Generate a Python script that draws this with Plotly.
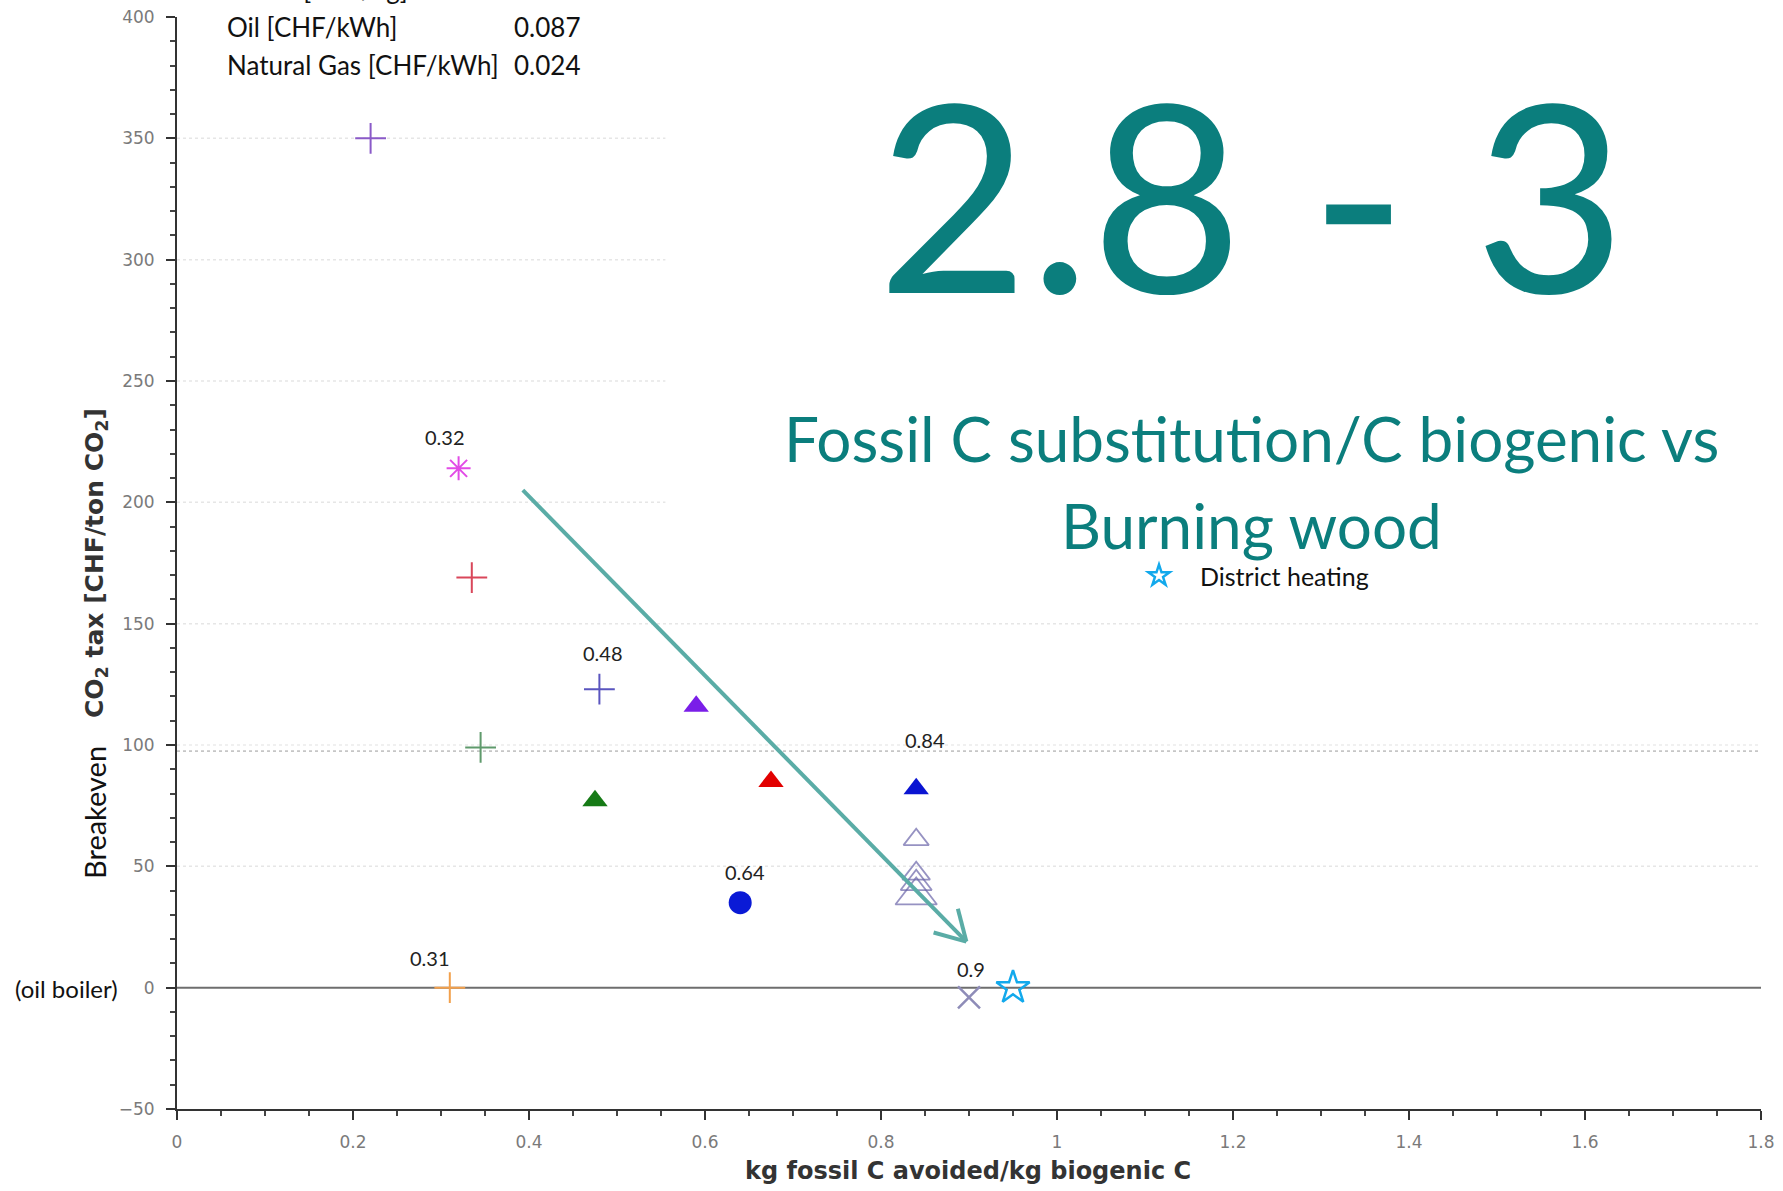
import math
import plotly.graph_objects as go

# Breakeven CO2 tax versus fossil carbon avoided per kg of biogenic carbon
plus_x = [0.22, 0.335, 0.345, 0.48, 0.31]
plus_y = [350, 169, 99, 123, 0]
plus_colors = ["#8a5ac8", "#d9475a", "#5f9a6c", "#5a55bf", "#f2a04c"]

star_burst_x = [0.32]
star_burst_y = [214]

solid_tri_x = [0.59, 0.475, 0.675, 0.84]
solid_tri_y = [116, 77, 85, 82]
solid_tri_colors = ["#7a1ee8", "#167a16", "#e20000", "#0a14d2"]

circle_x = [0.64]
circle_y = [35]

open_tri_x = [0.84, 0.84, 0.84, 0.84]
open_tri_y = [61, 47, 43, 38]
open_tri_sizes = [22, 24, 27, 36]

cross_x = [0.9]
cross_y = [-4]

district_x = [0.95]
district_y = [0]

value_labels = ["0.32", "0.48", "0.64", "0.84", "0.9", "0.31"]
value_label_x = [0.32, 0.48, 0.64, 0.84, 0.9, 0.31]
value_label_y = [214, 123, 35, 82, -4, 0]
value_label_dy = [31, 36, 31, 49, 28, 30]
value_label_dx = [-14, 4, 5, 9, 2, -20]

fuel_names = ["Wood [CHF/kg]", "Oil [CHF/kWh]", "Natural Gas [CHF/kWh]"]
fuel_prices = ["", "0.087", "0.024"]

threshold_y = 97.5
grid_short = [200, 250, 300, 350]
grid_long = [50, 150]
grid_short_end = 0.555

arrow_start = (0.393, 205)
arrow_end = (0.897, 19)

SLIDE_FONT = "Lato"
TEAL = "#0b7e7d"
ARROW_COLOR = "#5aaca6"

W, H = 1783, 1191
ML, MR, MT, MB = 177, 22, 17, 82
X_RANGE = [0, 1.8]
Y_RANGE = [-50, 400]
PW, PH = W - ML - MR, H - MT - MB
PX_PER_X = PW / (X_RANGE[1] - X_RANGE[0])
PX_PER_Y = PH / (Y_RANGE[1] - Y_RANGE[0])


def paper_x(px):
    return (px - ML) / PW


def paper_y(py):
    return (H - MB - py) / PH


fig = go.Figure()

fig.add_trace(go.Scatter(
    x=plus_x, y=plus_y, mode="markers", showlegend=False,
    marker=dict(symbol="cross-thin-open", size=22, color=plus_colors,
                line=dict(width=2, color=plus_colors)),
))
fig.add_trace(go.Scatter(
    x=star_burst_x, y=star_burst_y, mode="markers", showlegend=False,
    marker=dict(symbol="asterisk-open", size=20, color="#e24be6",
                line=dict(width=2, color="#e24be6")),
))
fig.add_trace(go.Scatter(
    x=solid_tri_x, y=solid_tri_y, mode="markers", showlegend=False,
    marker=dict(symbol="triangle-up", size=22, color=solid_tri_colors,
                line=dict(width=0)),
))
fig.add_trace(go.Scatter(
    x=circle_x, y=circle_y, mode="markers", showlegend=False,
    marker=dict(symbol="circle", size=23, color="#0a1ad6", line=dict(width=0)),
))
fig.add_trace(go.Scatter(
    x=open_tri_x, y=open_tri_y, mode="markers", showlegend=False,
    marker=dict(symbol="triangle-up-open", size=open_tri_sizes, color="#6a64a8",
                line=dict(width=1.8, color="#6a64a8")),
))
fig.add_trace(go.Scatter(
    x=cross_x, y=cross_y, mode="markers", showlegend=False,
    marker=dict(symbol="x-thin-open", size=22, color="#8e8cb8",
                line=dict(width=2.5, color="#8e8cb8")),
))
fig.add_trace(go.Scatter(
    x=district_x, y=district_y, mode="markers", name="District heating",
    showlegend=True,
    marker=dict(symbol="star-open", size=25, color="#12a9ec",
                line=dict(width=2.5, color="#12a9ec")),
))

shapes = []
for gy in grid_short:
    shapes.append(dict(type="line", xref="x", yref="y", x0=0, x1=grid_short_end,
                       y0=gy, y1=gy, layer="below",
                       line=dict(color="#e6e6e6", width=1.5, dash="dot")))
for gy in grid_long:
    shapes.append(dict(type="line", xref="x", yref="y", x0=0, x1=1.8,
                       y0=gy, y1=gy, layer="below",
                       line=dict(color="#e6e6e6", width=1.5, dash="dot")))
shapes.append(dict(type="line", xref="x", yref="y", x0=0, x1=1.8,
                   y0=100, y1=100, layer="below",
                   line=dict(color="#ececec", width=1.5, dash="dot")))
shapes.append(dict(type="line", xref="x", yref="y", x0=0, x1=1.8,
                   y0=threshold_y, y1=threshold_y, layer="below",
                   line=dict(color="#9a9a9a", width=1, dash="dot")))
shapes.append(dict(type="line", xref="x", yref="y", x0=0, x1=1.8,
                   y0=0, y1=0, layer="below",
                   line=dict(color="#6e6e6e", width=2)))

# trend arrow: shaft plus an open chevron head
shapes.append(dict(type="line", xref="x", yref="y",
                   x0=arrow_start[0], y0=arrow_start[1], x1=arrow_end[0], y1=arrow_end[1],
                   line=dict(color=ARROW_COLOR, width=4)))
dx_px = (arrow_end[0] - arrow_start[0]) * PX_PER_X
dy_px = (arrow_end[1] - arrow_start[1]) * PX_PER_Y
ang = math.atan2(dy_px, dx_px)
head_len = 34
for side in (-1, 1):
    a = ang + math.pi + side * math.radians(30)
    hx = arrow_end[0] + head_len * math.cos(a) / PX_PER_X
    hy = arrow_end[1] + head_len * math.sin(a) / PX_PER_Y
    shapes.append(dict(type="line", xref="x", yref="y",
                       x0=arrow_end[0], y0=arrow_end[1], x1=hx, y1=hy,
                       line=dict(color=ARROW_COLOR, width=4)))

annotations = []
for txt, lx, ly, dy, dx in zip(value_labels, value_label_x, value_label_y,
                               value_label_dy, value_label_dx):
    annotations.append(dict(x=lx, y=ly, xref="x", yref="y", text=txt,
                            showarrow=False, yshift=dy, xshift=dx,
                            font=dict(family=SLIDE_FONT, size=20, color="#222")))


def pix_note(px, py, text, size, color, family=SLIDE_FONT, xanchor="center", angle=0):
    annotations.append(dict(x=paper_x(px), y=paper_y(py), xref="paper", yref="paper",
                            text=text, showarrow=False, xanchor=xanchor,
                            yanchor="middle", textangle=angle,
                            font=dict(family=family, size=size, color=color)))


# fuel price box (its first row runs off the top edge)
for i, (name, price) in enumerate(zip(fuel_names, fuel_prices)):
    yy = -11 + 38 * i
    pix_note(225, yy, name, 26, "#111", xanchor="left")
    if price:
        pix_note(582, yy, price, 26, "#111", xanchor="right")

# headline
pix_note(1251, 191, "2.8 - 3", 262, TEAL)
pix_note(1251, 438, "Fossil C substitution/C biogenic vs", 62, TEAL)
pix_note(1251, 525, "Burning wood", 62, TEAL)

# axis titles
pix_note(94, 813, "Breakeven", 29, "#111", angle=-90)
pix_note(96, 563, "<b>CO<sub>2</sub> tax [CHF/ton CO<sub>2</sub>]</b>", 25, "#333",
         family="DejaVu Sans", angle=-90)
pix_note(66, 989, "(oil boiler)", 24, "#111")
pix_note(968, 1171, "<b>kg fossil C avoided/kg biogenic C</b>", 24, "#333",
         family="DejaVu Sans")

fig.update_layout(
    width=W, height=H,
    margin=dict(l=ML, r=MR, t=MT, b=MB, autoexpand=False),
    paper_bgcolor="white", plot_bgcolor="white",
    shapes=shapes, annotations=annotations,
    showlegend=True,
    legend=dict(x=paper_x(1118), y=paper_y(576), xanchor="left", yanchor="middle",
                xref="paper", yref="paper", itemwidth=72,
                bgcolor="rgba(0,0,0,0)",
                font=dict(family=SLIDE_FONT, size=25, color="#111")),
    xaxis=dict(range=X_RANGE, dtick=0.2, tick0=0, showgrid=False, zeroline=False,
               showline=True, linecolor="#333", linewidth=2, mirror=False,
               ticks="outside", ticklen=9, tickwidth=2, tickcolor="#333",
               ticklabelstandoff=8,
               minor=dict(dtick=0.05, ticks="outside", ticklen=5, tickwidth=1.5,
                          tickcolor="#444", showgrid=False),
               tickfont=dict(family="DejaVu Sans", size=17, color="#7a7a7a")),
    yaxis=dict(range=Y_RANGE, dtick=50, tick0=0, showgrid=False, zeroline=False,
               showline=True, linecolor="#333", linewidth=2,
               ticks="outside", ticklen=9, tickwidth=2, tickcolor="#333",
               ticklabelstandoff=8,
               minor=dict(dtick=10, ticks="outside", ticklen=5, tickwidth=1.5,
                          tickcolor="#444", showgrid=False),
               tickfont=dict(family="DejaVu Sans", size=17, color="#7a7a7a")),
)

fig.write_html("out.html")
